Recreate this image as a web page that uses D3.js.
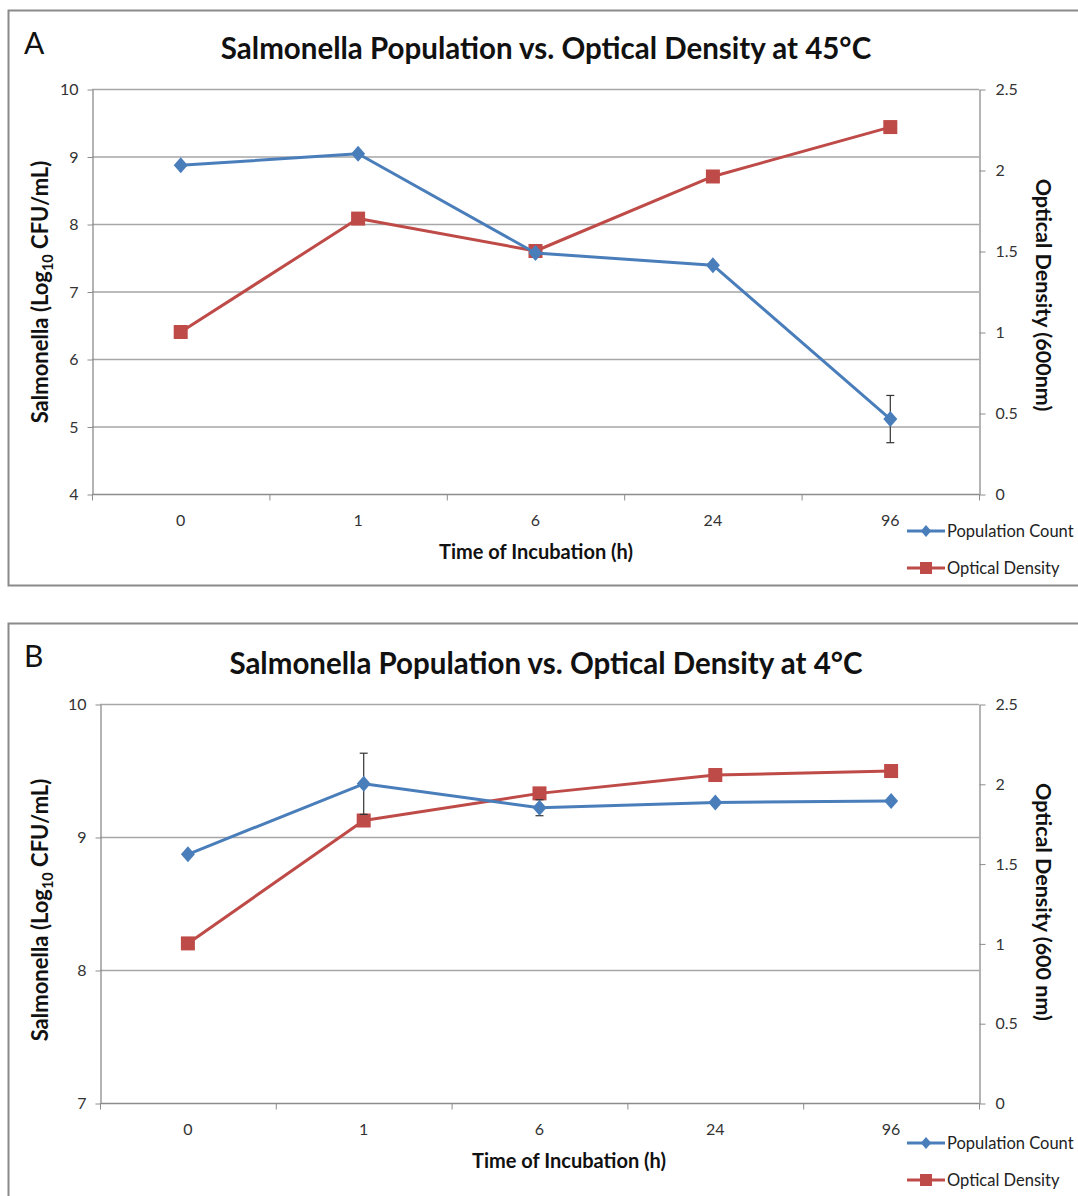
<!DOCTYPE html>
<html>
<head>
<meta charset="utf-8">
<script src="https://cdn.jsdelivr.net/npm/d3@7"></script>
<style>
  body { margin: 0; background: #fff; }
  svg { display: block; font-family: Lato, "Open Sans", sans-serif; }
</style>
</head>
<body>
<div class="graphic"></div>
<script>
// categories shared by both charts
var hours = ["0", "1", "6", "24", "96"];

// panel A (45°C)
var popA = [8.87, 9.04, 7.57, 7.39, 5.11];
var popErrA = [0, 0, 0, 0, 0.35];
var odA = [1.0, 1.70, 1.50, 1.96, 2.265];
var leftTicksA = [4, 5, 6, 7, 8, 9, 10];

// panel B (4°C)
var popB = [8.87, 9.40, 9.22, 9.26, 9.27];
var popErrB = [0, 0.23, 0.06, 0, 0];
var odB = [1.0, 1.77, 1.94, 2.055, 2.08];
var leftTicksB = [7, 8, 9, 10];

var odTicks = [0, 0.5, 1, 1.5, 2, 2.5];

var blue = "#4a7ebb", red = "#be4b48";
var gridColor = "#a6a6a6", axisColor = "#8c8c8c", textColor = "#333";

var svg = d3.select(".graphic").append("svg")
  .attr("width", 1078).attr("height", 1196);

function drawPanel(p) {
  var g = svg.append("g");

  // outer frame
  g.append("rect")
    .attr("x", 8.5).attr("y", p.box[0] + 0.5)
    .attr("width", 1090).attr("height", p.box[1] - p.box[0])
    .attr("fill", "none").attr("stroke", "#8a8a8a").attr("stroke-width", 2);

  g.append("text").attr("x", 24).attr("y", p.box[0] + 44)
    .attr("font-size", 30).attr("fill", "#111").text(p.letter);

  g.append("text").attr("x", 546).attr("y", p.titleY)
    .attr("text-anchor", "middle").attr("font-size", 29.5).attr("font-weight", "bold")
    .attr("fill", "#111").text(p.title);

  var x = d3.scaleBand().domain(hours).range([p.left, p.right]);
  var y = d3.scaleLinear().domain(d3.extent(p.leftTicks)).range([p.bottom, p.top]);
  var y2 = d3.scaleLinear().domain([0, 2.5]).range([p.bottom, p.top]);

  // horizontal gridlines from left axis
  g.append("g").selectAll("line")
    .data(p.leftTicks.slice(1))
    .join("line")
    .attr("x1", p.left).attr("x2", p.right)
    .attr("y1", d => y(d) + 0.5).attr("y2", d => y(d) + 0.5)
    .attr("stroke", gridColor).attr("stroke-width", 1.3);

  // left axis
  var la = g.append("g").attr("transform", "translate(" + (p.left + 0.5) + ",0.5)")
    .call(d3.axisLeft(y).tickValues(p.leftTicks).tickFormat(d3.format("d"))
      .tickSize(5).tickPadding(9).tickSizeOuter(0));
  // right axis
  var ra = g.append("g").attr("transform", "translate(" + (p.right + 0.5) + ",0.5)")
    .call(d3.axisRight(y2).tickValues(odTicks).tickFormat(d3.format("")).tickSize(6).tickPadding(10).tickSizeOuter(0));
  // bottom axis, ticks between categories
  var boundaries = hours.map(h => x(h)).concat([p.right]);
  var ba = g.append("g").attr("transform", "translate(0," + (p.bottom + 0.5) + ")");
  ba.append("line").attr("x1", p.left).attr("x2", p.right).attr("stroke", axisColor).attr("stroke-width", 1.3);
  ba.selectAll(".tk").data(boundaries).join("line").attr("class", "tk")
    .attr("x1", d => d + 0.5).attr("x2", d => d + 0.5).attr("y1", 0).attr("y2", 6)
    .attr("stroke", axisColor);
  ba.selectAll(".lb").data(hours).join("text").attr("class", "lb")
    .attr("x", d => x(d) + x.bandwidth() / 2).attr("y", 31)
    .attr("text-anchor", "middle").attr("font-size", 16).attr("fill", textColor).text(d => d);

  [la, ra].forEach(function(a) {
    a.select(".domain").attr("stroke", axisColor).attr("stroke-width", 1.3);
    a.selectAll(".tick line").attr("stroke", axisColor);
    a.selectAll(".tick text").attr("font-size", 16).attr("fill", textColor)
      .attr("font-family", "Lato, sans-serif");
  });

  // axis titles
  g.append("text").attr("x", p.xTitleX).attr("y", p.bottom + 65)
    .attr("text-anchor", "middle").attr("font-size", 20).attr("font-weight", "bold")
    .attr("fill", "#111").text("Time of Incubation (h)");

  var lt = g.append("text")
    .attr("transform", "translate(48," + p.yTitleY + ") rotate(-90)")
    .attr("text-anchor", "middle").attr("font-size", 22).attr("font-weight", "bold").attr("fill", "#111");
  lt.append("tspan").text("Salmonella (Log");
  lt.append("tspan").attr("font-size", 14.5).attr("dy", 5).text("10");
  lt.append("tspan").attr("dy", -5).text(" CFU/mL)");

  g.append("text")
    .attr("transform", "translate(1036," + p.y2TitleY + ") rotate(90)")
    .attr("text-anchor", "middle").attr("font-size", 21.5).attr("font-weight", "bold")
    .attr("fill", "#111").text(p.y2Title);

  var cx = d => x(d) + x.bandwidth() / 2;
  var popData = hours.map((h, i) => ({ h: h, v: p.pop[i], e: p.popErr[i] }));
  var odData = hours.map((h, i) => ({ h: h, v: p.od[i] }));

  // optical density line (drawn first, under population)
  g.append("path").datum(odData)
    .attr("d", d3.line().x(d => cx(d.h)).y(d => y2(d.v)))
    .attr("fill", "none").attr("stroke", red).attr("stroke-width", 3).attr("stroke-linejoin", "round");
  g.selectAll(".sq").data(odData).join("rect").attr("class", "sq")
    .attr("x", d => cx(d.h) - 7).attr("y", d => y2(d.v) - 7)
    .attr("width", 14).attr("height", 14).attr("fill", red);

  // population line
  g.append("path").datum(popData)
    .attr("d", d3.line().x(d => cx(d.h)).y(d => y(d.v)))
    .attr("fill", "none").attr("stroke", blue).attr("stroke-width", 3).attr("stroke-linejoin", "round");

  // error bars
  var eb = g.selectAll(".eb").data(popData.filter(d => d.e > 0)).join("g").attr("class", "eb");
  eb.append("line").attr("x1", d => cx(d.h)).attr("x2", d => cx(d.h))
    .attr("y1", d => y(d.v + d.e)).attr("y2", d => y(d.v - d.e));
  eb.append("line").attr("x1", d => cx(d.h) - 4).attr("x2", d => cx(d.h) + 4)
    .attr("y1", d => y(d.v + d.e)).attr("y2", d => y(d.v + d.e));
  eb.append("line").attr("x1", d => cx(d.h) - 4).attr("x2", d => cx(d.h) + 4)
    .attr("y1", d => y(d.v - d.e)).attr("y2", d => y(d.v - d.e));
  eb.selectAll("line").attr("stroke", "#333").attr("stroke-width", 1.2);

  var diamond = "M0,-8L7,0L0,8L-7,0Z";
  g.selectAll(".dm").data(popData).join("path").attr("class", "dm")
    .attr("transform", d => "translate(" + cx(d.h) + "," + y(d.v) + ")")
    .attr("d", diamond).attr("fill", blue);

  // legend
  var leg = g.append("g").attr("transform", "translate(907," + p.legendY + ")");
  leg.append("line").attr("x1", 0).attr("x2", 38).attr("stroke", blue).attr("stroke-width", 3);
  leg.append("path").attr("transform", "translate(19,0) scale(0.75)").attr("d", diamond).attr("fill", blue);
  leg.append("text").attr("x", 40).attr("y", 6).attr("font-size", 16.5).attr("fill", "#222").text("Population Count");
  leg.append("line").attr("x1", 0).attr("x2", 38).attr("y1", 37).attr("y2", 37).attr("stroke", red).attr("stroke-width", 3);
  leg.append("rect").attr("x", 13).attr("y", 31).attr("width", 12).attr("height", 12).attr("fill", red);
  leg.append("text").attr("x", 40).attr("y", 43).attr("font-size", 16.5).attr("fill", "#222").text("Optical Density");
}

drawPanel({
  letter: "A", box: [10, 585], titleY: 59,
  title: "Salmonella Population vs. Optical Density at 45°C",
  left: 92, right: 979, top: 89, bottom: 494,
  leftTicks: leftTicksA, pop: popA, popErr: popErrA, od: odA,
  xTitleX: 536, yTitleY: 292, y2TitleY: 295, y2Title: "Optical Density (600nm)",
  legendY: 531
});

drawPanel({
  letter: "B", box: [623, 1210], titleY: 674,
  title: "Salmonella Population vs. Optical Density at 4°C",
  left: 100, right: 979, top: 704, bottom: 1103,
  leftTicks: leftTicksB, pop: popB, popErr: popErrB, od: odB,
  xTitleX: 569, yTitleY: 910, y2TitleY: 902, y2Title: "Optical Density (600 nm)",
  legendY: 1143
});
</script>
</body>
</html>
